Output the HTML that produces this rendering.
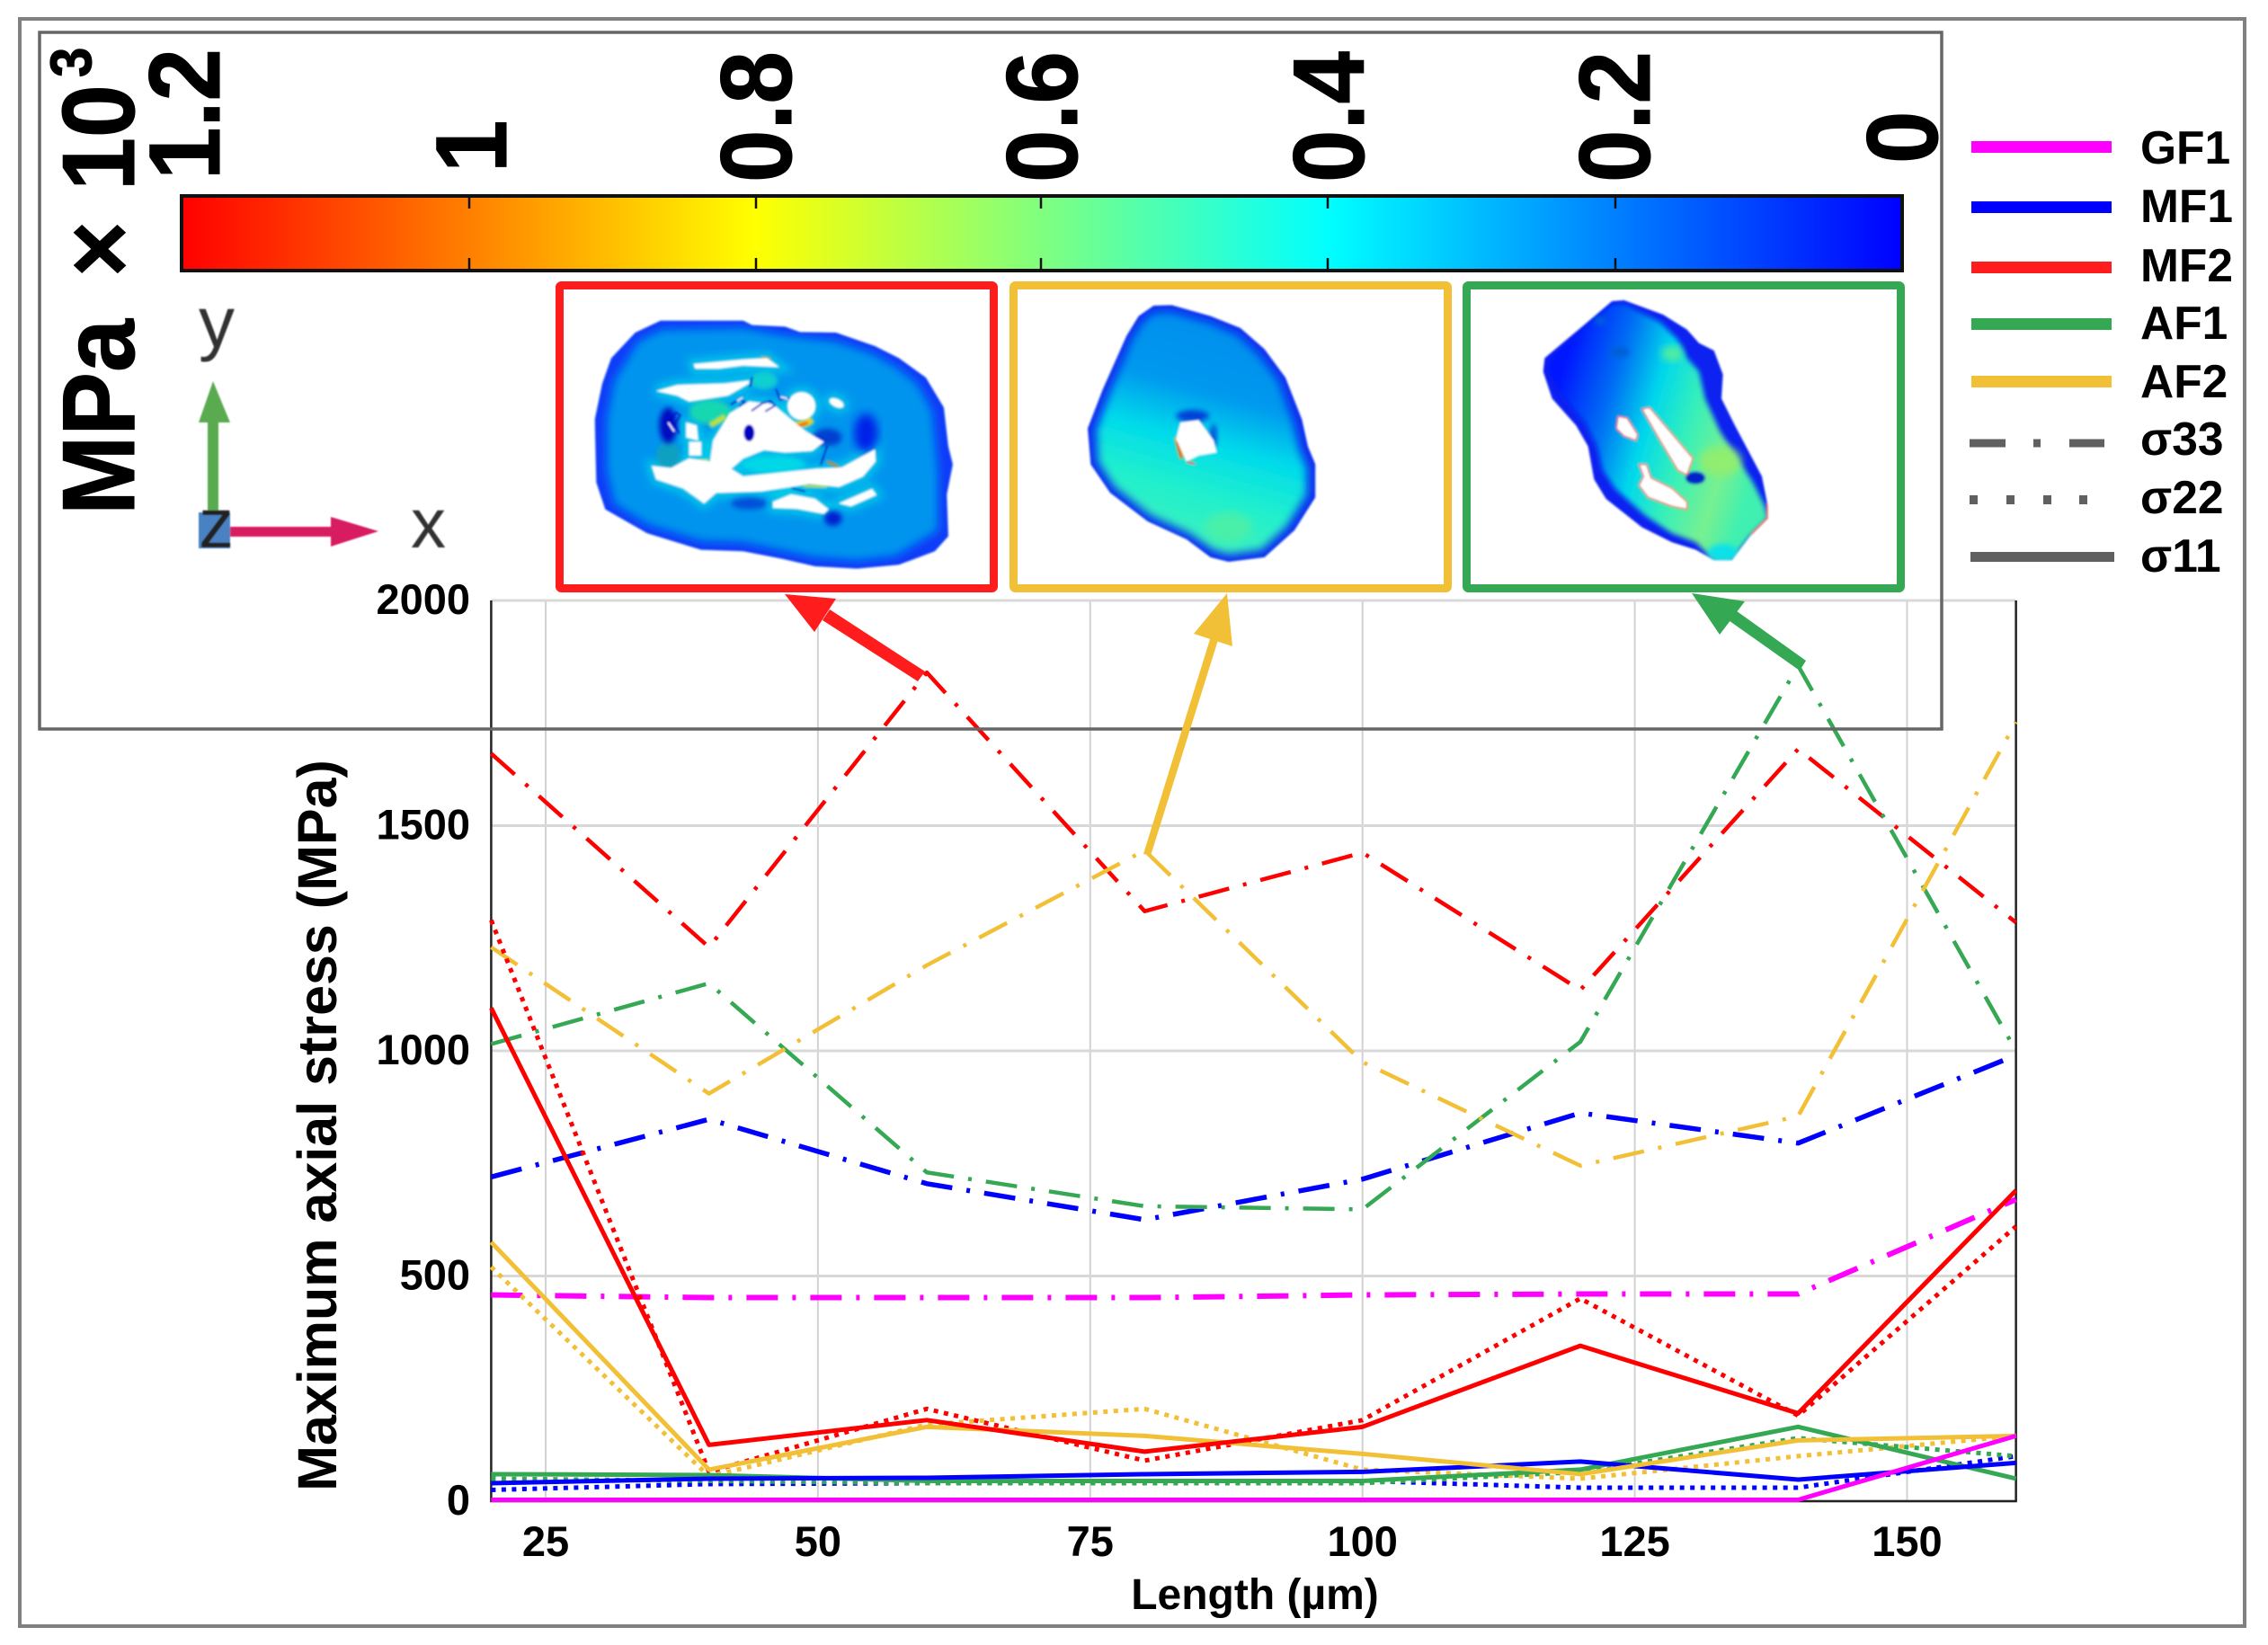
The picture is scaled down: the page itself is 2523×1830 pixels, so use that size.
<!DOCTYPE html>
<html lang="en">
<head>
<meta charset="utf-8">
<title>Maximum axial stress vs length</title>
<style>
html,body{margin:0;padding:0;background:#fff;}
svg{display:block;}
text{font-family:"Liberation Sans",sans-serif;font-weight:bold;fill:#000;}
</style>
</head>
<body>
<svg id="figure" xmlns="http://www.w3.org/2000/svg" width="2523" height="1830" viewBox="0 0 2523 1830">
<defs>
  <linearGradient id="cbar" x1="0" y1="0" x2="1" y2="0">
    <stop offset="0" stop-color="#ff0000"/>
    <stop offset="0.3333" stop-color="#ffff00"/>
    <stop offset="0.6667" stop-color="#00ffff"/>
    <stop offset="1" stop-color="#0000ff"/>
  </linearGradient>
  <linearGradient id="gradYellow" x1="0.62" y1="0.08" x2="0.42" y2="0.92">
    <stop offset="0" stop-color="#0090ee"/>
    <stop offset="0.3" stop-color="#0098ee"/>
    <stop offset="0.55" stop-color="#00dcea"/>
    <stop offset="0.8" stop-color="#22f0cc"/>
    <stop offset="1" stop-color="#38f0c0"/>
  </linearGradient>
  <linearGradient id="gradGreen" x1="0.05" y1="0.3" x2="0.95" y2="0.62">
    <stop offset="0" stop-color="#0018ff"/>
    <stop offset="0.25" stop-color="#0070f4"/>
    <stop offset="0.45" stop-color="#00d8ec"/>
    <stop offset="0.65" stop-color="#38f0b8"/>
    <stop offset="0.85" stop-color="#78f090"/>
    <stop offset="1" stop-color="#40f0b0"/>
  </linearGradient>
  <filter id="b14" x="-20%" y="-20%" width="140%" height="140%"><feGaussianBlur stdDeviation="14"/></filter>
  <filter id="b8" x="-30%" y="-30%" width="160%" height="160%"><feGaussianBlur stdDeviation="8"/></filter>
  <filter id="b3" x="-30%" y="-30%" width="160%" height="160%"><feGaussianBlur stdDeviation="3"/></filter>
  <filter id="soft" x="-5%" y="-5%" width="110%" height="110%"><feGaussianBlur stdDeviation="3.5"/></filter>
  <filter id="softPx" x="-10%" y="-10%" width="120%" height="120%"><feGaussianBlur stdDeviation="0.9"/></filter>
  <clipPath id="clipRed"><polygon points="345,140 620,140 650,155 760,160 810,178 930,180 1060,225 1140,265 1230,330 1290,430 1305,560 1320,620 1300,720 1305,860 1260,910 1140,955 1000,968 860,960 750,935 620,910 480,905 300,850 160,770 130,680 125,470 150,350 180,265 260,180"/></clipPath>
  <clipPath id="clipYellow"><polygon points="490,90 550,88 680,125 780,165 860,235 930,330 985,470 1005,560 1030,620 1030,730 960,840 860,930 740,945 680,930 600,870 470,810 345,715 280,620 270,500 320,370 400,190 440,125"/></clipPath>
  <clipPath id="clipGreen"><polygon points="520,75 560,72 690,120 770,170 810,215 860,240 890,320 885,400 930,490 1020,660 1040,760 1040,800 980,860 920,940 860,940 800,905 720,880 620,830 500,735 460,670 440,560 400,490 320,400 290,310 295,265 420,160"/></clipPath>
  <g id="redHoles">
    <polygon points="455,285 620,270 700,265 740,295 620,290 540,300 460,300"/>
    <polygon points="330,375 400,355 560,350 640,340 640,350 570,390 440,410 400,390"/>
    <polygon points="315,625 380,632 440,600 510,610 520,540 575,450 640,410 720,420 780,470 830,510 890,545 850,575 760,580 690,572 620,600 580,635 620,660 720,650 860,635 950,630 1060,570 1062,610 1020,660 940,695 840,685 780,695 680,710 530,715 490,750 420,700 330,670"/>
    <polygon points="720,745 780,720 860,735 905,770 890,785 800,768 720,765"/>
    <polygon points="940,750 1050,702 1065,722 980,760"/>
    <circle cx="815" cy="425" r="46"/>
    <ellipse cx="932" cy="415" rx="25" ry="13" transform="rotate(25 932 415)"/>
    <polygon points="430,480 465,490 470,540 430,530"/>
    <polygon points="440,545 480,545 480,590 440,590"/>
  </g>
</defs>

<rect x="0" y="0" width="2523" height="1830" fill="#ffffff"/>
<rect x="22" y="21" width="2475" height="1788" fill="none" stroke="#808080" stroke-width="4"/>

<g id="plot"></g>

<rect x="44" y="36" width="2116" height="775" fill="none" stroke="#666666" stroke-width="3.5"/>

<!-- Colour bar -->
<g>
  <rect x="202" y="218" width="1914" height="83" fill="url(#cbar)" stroke="#111" stroke-width="4"/>
  <g stroke="#111" stroke-width="2.5">
    <path d="M522 218v14M522 301v-14M841 218v14M841 301v-14M1158 218v14M1158 301v-14M1477 218v14M1477 301v-14M1797 218v14M1797 301v-14"/>
  </g>
  <text font-size="105" stroke="#000" stroke-width="1" transform="translate(244,200) rotate(-90) scale(1,1.07)">1.2</text>
  <text font-size="105" stroke="#000" stroke-width="1" transform="translate(563,192) rotate(-90) scale(1,1.07)">1</text>
  <text font-size="105" stroke="#000" stroke-width="1" transform="translate(880,203) rotate(-90) scale(1,1.07)">0.8</text>
  <text font-size="105" stroke="#000" stroke-width="1" transform="translate(1198,203) rotate(-90) scale(1,1.07)">0.6</text>
  <text font-size="105" stroke="#000" stroke-width="1" transform="translate(1517,203) rotate(-90) scale(1,1.07)">0.4</text>
  <text font-size="105" stroke="#000" stroke-width="1" transform="translate(1835,203) rotate(-90) scale(1,1.07)">0.2</text>
  <text font-size="105" stroke="#000" stroke-width="1" transform="translate(2155,182) rotate(-90) scale(1,1.07)">0</text>
  <text font-size="106" stroke="#000" stroke-width="1" transform="translate(149,573) rotate(-90) scale(1,1.08)">MPa<tspan x="265">×</tspan><tspan x="361">10</tspan><tspan x="487" dy="-44" font-size="60">3</tspan></text>
</g>

<!-- Axis triad -->
<g filter="url(#softPx)">
  <rect x="221" y="570" width="35" height="40" fill="#4a82c2"/>
  <rect x="231" y="466" width="12" height="104" fill="#5aab50"/>
  <polygon points="237,424 256,470 221,470" fill="#5aab50"/>
  <rect x="256" y="586" width="114" height="11" fill="#d81e62"/>
  <polygon points="421,591 368,575 368,608" fill="#d81e62"/>
  <text x="221" y="386" font-size="80" style="font-weight:normal;fill:#333">y</text>
  <text x="221" y="609" font-size="78" style="font-weight:normal;fill:#222">z</text>
  <text x="457" y="609" font-size="78" style="font-weight:normal;fill:#333">x</text>
</g>

<!-- Cross section MF2 -->
<rect x="622.5" y="317.5" width="483" height="337" rx="2" fill="#fff" stroke="#ff1c1c" stroke-width="9"/>
<g transform="translate(620,310) scale(0.3333)" filter="url(#soft)">
  <g clip-path="url(#clipRed)">
    <rect x="100" y="100" width="1300" height="900" fill="#0a3cf8"/>
    <polygon filter="url(#b14)" fill="#0094ee" points="350,170 620,165 760,190 930,210 1050,250 1130,295 1200,350 1250,440 1270,640 1270,840 1130,925 1000,940 860,930 620,880 480,875 300,820 190,750 165,640 165,470 190,340 270,210"/>
    <use href="#redHoles" fill="#00c8e8" stroke="#00c8e8" stroke-width="34" filter="url(#b14)"/>
    <ellipse filter="url(#b14)" cx="1030" cy="515" rx="40" ry="65" fill="#0024e8"/>
    <ellipse filter="url(#b8)" cx="690" cy="340" rx="45" ry="30" fill="#10d0d0"/>
    <ellipse filter="url(#b8)" cx="510" cy="445" rx="70" ry="40" fill="#18d8b0"/>
    <ellipse filter="url(#b8)" cx="720" cy="620" rx="110" ry="30" fill="#00d8e8"/>
    <ellipse filter="url(#b8)" cx="370" cy="590" rx="40" ry="45" fill="#10a0c0"/>
    <ellipse filter="url(#b8)" cx="640" cy="750" rx="60" ry="20" fill="#0050d8"/>
    <ellipse filter="url(#b8)" cx="920" cy="800" rx="30" ry="25" fill="#0020d0"/>
    <ellipse filter="url(#b8)" cx="370" cy="490" rx="30" ry="60" fill="#0010c0"/>
    <ellipse filter="url(#b8)" cx="900" cy="530" rx="50" ry="30" fill="#0040d0"/>
    <path filter="url(#b3)" d="M750 470 Q790 510 850 470" fill="none" stroke="#f0d020" stroke-width="24"/>
    <path filter="url(#b3)" d="M780 490 Q810 495 835 480" fill="none" stroke="#e04010" stroke-width="7"/>
    <path filter="url(#b3)" d="M510 490 L560 460" fill="none" stroke="#c0e040" stroke-width="18"/>
    <path filter="url(#b3)" d="M460 610 L505 605" fill="none" stroke="#d0e030" stroke-width="12"/>
    <path filter="url(#b3)" d="M820 690 L900 695" fill="none" stroke="#e0e030" stroke-width="9"/>
    <path filter="url(#b3)" d="M900 610 L940 630" fill="none" stroke="#e08020" stroke-width="8"/>
    <path filter="url(#b3)" d="M680 262 L712 270" fill="none" stroke="#f0a020" stroke-width="8"/>
    <use href="#redHoles" fill="#ffffff"/>
    <g fill="none" stroke="#0000c8" stroke-width="6" stroke-linecap="round">
      <path d="M580 420l28-18 18 10-18 14M650 440l34-24 28-8 14 16-30 18M730 370l14 34 30-6M650 330l-6 30"/>
      <path d="M365 490l32-44 14 10-18 30 14 30"/>
      <path d="M785 700l40 10M880 620l20-60"/>
    </g>
    <ellipse cx="640" cy="515" rx="18" ry="28" fill="#0000c0"/>
    <g fill="none" stroke="#ffffff" stroke-width="5">
      <path d="M370 480l20 30M600 408l18-10M680 430l24-14M745 395l24 6"/>
    </g>
  </g>
</g>

<!-- Cross section AF2 -->
<rect x="1127.5" y="317.5" width="483" height="337" rx="2" fill="#fff" stroke="#f2c036" stroke-width="9"/>
<g transform="translate(1120,310) scale(0.3333)" filter="url(#soft)">
  <g clip-path="url(#clipYellow)">
    <rect x="200" y="50" width="900" height="950" fill="#0a30f0"/>
    <polygon filter="url(#b14)" fill="url(#gradYellow)" points="490,115 550,113 680,150 770,190 840,255 905,340 955,480 975,570 1000,630 1000,720 935,825 850,905 740,920 690,905 610,850 480,790 360,695 305,610 300,505 345,380 420,200 455,145"/>
    <ellipse filter="url(#b14)" cx="740" cy="830" rx="80" ry="50" fill="#48f0a8"/>
    <ellipse filter="url(#b8)" cx="620" cy="458" rx="55" ry="20" fill="#0040d8"/>
    <ellipse filter="url(#b8)" cx="690" cy="525" rx="12" ry="40" fill="#0050d8"/>
    <path filter="url(#b3)" d="M565 530 L585 600" fill="none" stroke="#f0a010" stroke-width="14"/>
    <path d="M568 545 L582 598" fill="none" stroke="#e03010" stroke-width="5"/>
    <path d="M600 612 L628 618" fill="none" stroke="#e05010" stroke-width="6"/>
    <polygon fill="#ffffff" points="580,480 640,472 690,540 700,580 640,590 600,610 565,535"/>
  </g>
</g>

<!-- Cross section AF1 -->
<rect x="1631.5" y="317.5" width="483" height="337" rx="2" fill="#fff" stroke="#34a853" stroke-width="9"/>
<g transform="translate(1620,310) scale(0.3333)" filter="url(#soft)">
  <g clip-path="url(#clipGreen)">
    <rect x="250" y="50" width="850" height="950" fill="#0a20f0"/>
    <polygon filter="url(#b8)" fill="url(#gradGreen)" points="520,85 560,85 680,145 740,205 770,265 810,310 830,400 880,510 990,680 1030,760 1040,800 980,860 920,940 860,940 800,880 720,850 630,790 530,700 490,640 470,560 430,480 360,400 310,310 315,270 420,170"/>
    <ellipse filter="url(#b14)" cx="880" cy="610" rx="70" ry="50" fill="#90ee70"/>
    <ellipse filter="url(#b14)" cx="720" cy="250" rx="35" ry="25" fill="#58ee98"/>
    <ellipse filter="url(#b8)" cx="890" cy="915" rx="50" ry="30" fill="#10e0e8"/>
    <ellipse filter="url(#b8)" cx="545" cy="245" rx="35" ry="18" fill="#0060d8"/>
    <ellipse filter="url(#b8)" cx="480" cy="140" rx="18" ry="14" fill="#0060d8"/>
    <ellipse filter="url(#b3)" cx="798" cy="665" rx="32" ry="20" fill="#0020c8"/>
    <path d="M1040 750 L1040 800 L985 855" fill="none" stroke="#e84010" stroke-width="9"/>
    <g fill="#ffffff" stroke="#f05020" stroke-width="4">
      <polygon points="540,460 570,465 605,520 600,540 560,525 535,500"/>
      <polygon points="620,435 645,430 790,600 770,655 740,640 680,540"/>
      <polygon points="610,620 635,620 650,665 720,700 770,745 770,770 720,760 640,730 610,690 625,660"/>
    </g>
  </g>
</g>

<!-- Legend -->
<g>
  <g><rect x="2193" y="157" width="156" height="13" fill="#ff00ff"/><text x="2381" y="182" font-size="51.5">GF1</text></g>
  <g><rect x="2193" y="224" width="156" height="13" fill="#0000ff"/><text x="2381" y="247" font-size="51.5">MF1</text></g>
  <g><rect x="2193" y="291" width="156" height="13" fill="#ff1c1c"/><text x="2381" y="313" font-size="51.5">MF2</text></g>
  <g><rect x="2193" y="354" width="156" height="13" fill="#34a853"/><text x="2381" y="377" font-size="51.5">AF1</text></g>
  <g><rect x="2193" y="418" width="156" height="13" fill="#f2c036"/><text x="2381" y="442" font-size="51.5">AF2</text></g>
  <g><path d="M2191 493H2231M2262 493H2270M2302 493H2341" stroke="#606060" stroke-width="9" fill="none"/><text x="2381" y="506" font-size="51.5">σ33</text></g>
  <g><path d="M2191 556H2200M2232 556H2241M2273 556H2282M2313 556H2322" stroke="#606060" stroke-width="10" fill="none"/><text x="2381" y="571" font-size="51.5">σ22</text></g>
  <g><rect x="2192" y="614" width="160" height="11" fill="#606060"/><text x="2381" y="636" font-size="51.5">σ11</text></g>
</g>

<!-- Call-out arrows -->
<g>
  <g fill="#ff1c1c">
    <polygon points="1029,747 1021,758 915,690 923,678"/>
    <polygon points="873,661 930,666 906,703"/>
  </g>
  <g fill="#f2c036">
    <polygon points="1272,950 1280,952 1355,712 1347,708"/>
    <polygon points="1365,660 1328,705 1371,719"/>
  </g>
  <g fill="#34a853">
    <polygon points="2009,735 2002,746 1920,688 1928,677"/>
    <polygon points="1882,660 1941,669 1913,706"/>
  </g>
</g>

<script>
// Axis tick labels
const xTicks = [25, 50, 75, 100, 125, 150];
const yTicks = [0, 500, 1000, 1500, 2000];
// Element lengths along x (µm)
const lengths = [20, 40, 60, 80, 100, 120, 140, 160];
// sigma-33 (dash-dot)
const gf1S33 = [458, 452, 452, 452, 458, 460, 460, 670];
const mf1S33 = [720, 848, 705, 625, 715, 862, 795, 990];
const mf2S33 = [1660, 1230, 1840, 1310, 1440, 1135, 1670, 1285];
const af1S33 = [1015, 1150, 730, 655, 648, 1020, 1855, 1000];
const af2S33 = [1230, 905, 1190, 1445, 975, 745, 855, 1730];
// sigma-22 (dotted)
const mf1S22 = [25, 38, 40, 45, 45, 30, 30, 100];
const mf2S22 = [1290, 65, 205, 90, 180, 450, 190, 610];
const af1S22 = [50, 45, 40, 40, 40, 65, 140, 100];
const af2S22 = [520, 55, 170, 205, 70, 50, 100, 145];
// sigma-11 (solid)
const gf1S11 = [3, 3, 3, 3, 3, 3, 3, 145];
const mf1S11 = [40, 50, 52, 60, 65, 88, 48, 85];
const mf2S11 = [1095, 125, 180, 110, 165, 345, 195, 690];
const af1S11 = [60, 58, 45, 45, 45, 70, 165, 50];
const af2S11 = [575, 70, 165, 145, 105, 60, 135, 145];

const NS = 'http://www.w3.org/2000/svg';
const plot = document.getElementById('plot');
function xScale(v) { return 546.4 + (v - 20) * 12.116; }
function yScale(v) { return 1670 - v * 0.501; }

function drawSeries(name, values, color, width, dash) {
  const line = document.createElementNS(NS, 'polyline');
  
  
  line.setAttribute('points', values.map(function (v, i) { return xScale(lengths[i]) + ',' + yScale(v); }).join(' '));
  line.setAttribute('fill', 'none');
  line.setAttribute('stroke', color);
  line.setAttribute('stroke-width', width);
  line.setAttribute('stroke-linejoin', 'round');
  if (dash) line.setAttribute('stroke-dasharray', dash);
  plot.appendChild(line);
}

xTicks.forEach(function (t) {
  const g = document.createElementNS(NS, 'line');
  
  
  g.setAttribute('x1', xScale(t));
  g.setAttribute('x2', xScale(t));
  g.setAttribute('y1', yScale(2000));
  g.setAttribute('y2', yScale(0));
  g.setAttribute('stroke', '#d2d2d2');
  g.setAttribute('stroke-width', '2');
  plot.appendChild(g);
  const l = document.createElementNS(NS, 'text');
  
  
  l.setAttribute('x', xScale(t));
  l.setAttribute('y', 1731);
  l.setAttribute('font-size', '47');
  l.setAttribute('text-anchor', 'middle');
  l.textContent = String(t);
  plot.appendChild(l);
});

yTicks.forEach(function (t) {
  const g = document.createElementNS(NS, 'line');
  
  
  g.setAttribute('x1', xScale(20));
  g.setAttribute('x2', xScale(160));
  g.setAttribute('y1', yScale(t));
  g.setAttribute('y2', yScale(t));
  g.setAttribute('stroke', '#d8d8d8');
  g.setAttribute('stroke-width', '3');
  plot.appendChild(g);
  const l = document.createElementNS(NS, 'text');
  
  
  l.setAttribute('x', 523);
  l.setAttribute('y', yScale(t) + 15);
  l.setAttribute('font-size', '47');
  l.setAttribute('text-anchor', 'end');
  l.textContent = String(t);
  plot.appendChild(l);
});

const axes = document.createElementNS(NS, 'path');


axes.setAttribute('d', 'M' + xScale(20) + ' ' + yScale(2000) + 'V' + yScale(0) + 'H' + xScale(160) + 'V' + yScale(2000));
axes.setAttribute('fill', 'none');
axes.setAttribute('stroke', '#222');
axes.setAttribute('stroke-width', '2.5');
plot.appendChild(axes);

const DASHDOT = '35 16 4 16';
const DOTTED = '5 6.5';
drawSeries('gf1-sigma33-line', gf1S33, '#ff00ff', 6, DASHDOT);
drawSeries('mf1-sigma33-line', mf1S33, '#0000ff', 5.5, DASHDOT);
drawSeries('mf2-sigma33-line', mf2S33, '#ff0000', 4.5, DASHDOT);
drawSeries('af1-sigma33-line', af1S33, '#34a853', 4.5, DASHDOT);
drawSeries('af2-sigma33-line', af2S33, '#f2c036', 4.5, DASHDOT);
drawSeries('mf1-sigma22-line', mf1S22, '#0000ff', 5, DOTTED);
drawSeries('af1-sigma22-line', af1S22, '#34a853', 5, DOTTED);
drawSeries('mf2-sigma22-line', mf2S22, '#ff0000', 5, DOTTED);
drawSeries('af2-sigma22-line', af2S22, '#f2c036', 5, DOTTED);
drawSeries('af1-sigma11-line', af1S11, '#34a853', 5, null);
drawSeries('mf1-sigma11-line', mf1S11, '#0000ff', 5, null);
drawSeries('af2-sigma11-line', af2S11, '#f2c036', 5, null);
drawSeries('mf2-sigma11-line', mf2S11, '#ff0000', 5, null);
drawSeries('gf1-sigma11-line', gf1S11, '#ff00ff', 5, null);

const xTitle = document.createElementNS(NS, 'text');


xTitle.setAttribute('x', 1396);
xTitle.setAttribute('y', 1790);
xTitle.setAttribute('font-size', '48');
xTitle.setAttribute('text-anchor', 'middle');
xTitle.textContent = 'Length (µm)';
plot.appendChild(xTitle);

const yTitle = document.createElementNS(NS, 'text');


yTitle.setAttribute('transform', 'translate(374,1252) rotate(-90)');
yTitle.setAttribute('font-size', '61');
yTitle.setAttribute('text-anchor', 'middle');
yTitle.textContent = 'Maximum axial stress (MPa)';
plot.appendChild(yTitle);
</script>
</svg>
</body>
</html>
